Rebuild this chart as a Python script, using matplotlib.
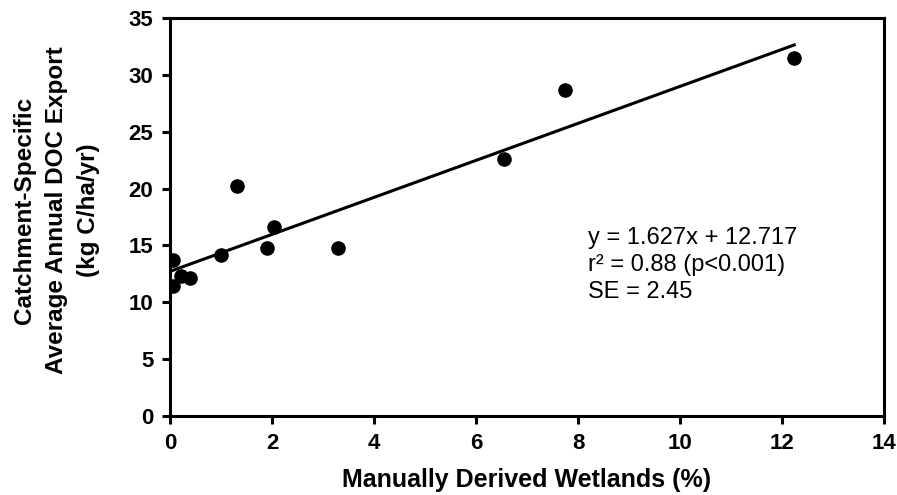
import matplotlib
matplotlib.use('Agg')
import matplotlib.pyplot as plt
import numpy as np

# wetland cover (%) vs DOC export (kg C/ha/yr)
wetlands = [0.06, 0.06, 0.21, 0.39, 1.01, 1.31, 1.91, 2.03, 3.30, 6.54, 7.75, 12.24]
doc_export = [13.7, 11.4, 12.3, 12.1, 14.2, 20.2, 14.75, 16.65, 14.75, 22.6, 28.7, 31.5]
slope, intercept = 1.627, 12.717
x_ticks = [0, 2, 4, 6, 8, 10, 12, 14]
y_ticks = [0, 5, 10, 15, 20, 25, 30, 35]

plt.rcParams['font.family'] = ['Liberation Sans', 'DejaVu Sans']

fig = plt.figure(figsize=(8.97, 4.95), dpi=100)
ax = fig.add_axes([0.1895, 0.1596, 0.796, 0.804])

ax.scatter(wetlands, doc_export, s=90, color='black', zorder=3)
fit_x = np.array([min(wetlands), max(wetlands)])
ax.plot(fit_x, slope * fit_x + intercept, color='black', lw=2.2)

ax.set_xlim(0, 14)
ax.set_ylim(0, 35)
ax.set_xticks(x_ticks)
ax.set_yticks(y_ticks)
ax.tick_params(direction='out', length=6, width=2.2, labelsize=16, pad=6)
for lbl in ax.get_xticklabels() + ax.get_yticklabels():
    lbl.set_fontweight('bold')
for sp in ax.spines.values():
    sp.set_linewidth(2.2)

ax.set_xlabel('Manually Derived Wetlands (%)', fontsize=18, fontweight='bold', labelpad=10)
fig.text(0.0635, 0.575, 'Catchment-Specific\nAverage Annual DOC Export\n(kg C/ha/yr)',
         fontsize=17.5, fontweight='bold', linespacing=1.5, rotation=90,
         ha='center', va='center')

ax.text(0.585, 0.475, 'y = 1.627x + 12.717\nr\u00b2 = 0.88 (p<0.001)\nSE = 2.45',
        transform=ax.transAxes, fontsize=17, linespacing=1.3, va='top', ha='left')

fig.savefig('out.png', dpi=100)
